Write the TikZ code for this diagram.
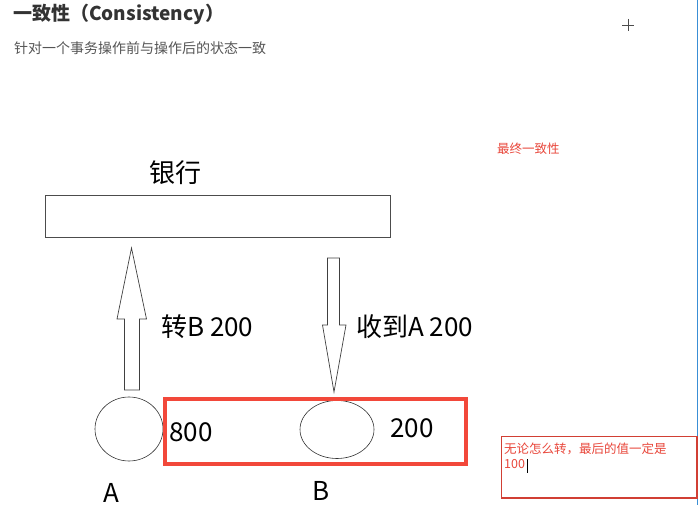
\documentclass[tikz,border=0pt]{standalone}
\usepackage{fontspec}
\setmainfont{Noto Sans CJK SC}
\usetikzlibrary{shapes.geometric,positioning}

\definecolor{titlegray}{HTML}{333333}
\definecolor{subgray}{HTML}{555555}
\definecolor{notered}{HTML}{E8463A}
\definecolor{boxred}{HTML}{F2483A}
\definecolor{edgeblue}{HTML}{3A8FD6}

\begin{document}
\begin{tikzpicture}[
  x=1pt, y=-1pt,
  every node/.style={inner sep=0pt, anchor=west},
  bigtext/.style={font=\fontsize{26}{29}\selectfont, text=black},
  namelab/.style={bigtext, anchor=base, text height=19pt, text depth=0pt},
  note/.style={font=\fontsize{12.5}{15}\selectfont, text=notered},
  account/.style={ellipse, draw=black!80, line width=0.6pt, inner sep=0pt, anchor=center},
  blockarrow/.style={draw=black!75, line width=0.7pt, fill=white, line join=miter}
]
\useasboundingbox (0,0) rectangle (699,505);

% --- heading ---
\node[font=\fontsize{19}{22}\bfseries\selectfont, text=titlegray] (title) at (13,14) {一致性（Consistency）};
\node[font=\fontsize{14}{16}\selectfont, text=subgray] (sub) at (14,48) {针对一个事务操作前与操作后的状态一致};

% cursor cross and window edge
\draw[black!70, line width=0.5pt] (622,25) -- (634,25) (628,19) -- (628,31);
\draw[edgeblue, line width=1pt] (697.5,0) -- (697.5,505);

% --- bank ---
\node[bigtext] (banklab) at (149,173) {银行};
\node[draw=black!70, line width=0.8pt, minimum width=345pt, minimum height=42pt, anchor=north west] (bank) at (45,195) {};

% --- transfer arrows (block shapes) ---
\draw[blockarrow] (124.5,390) -- (124.5,319) -- (117,319) -- (131.5,248) -- (146.5,319)
  -- (139.5,319) -- (139.5,390) -- cycle;
\draw[blockarrow] (327.5,258) -- (339.5,258) -- (339.5,325) -- (346,325) -- (334,392)
  -- (322.5,325) -- (327.5,325) -- cycle;
\node[bigtext] (tolab) at (161,327) {转B 200};
\node[bigtext] (fromlab) at (356,327) {收到A 200};

% --- accounts ---
\node[account, minimum width=68pt, minimum height=64pt] (A) at (129,429) {};
\node[account, minimum width=74pt, minimum height=58pt] (B) at (337,429.5) {};
\node[namelab] (Alab) at (111,502) {A};
\node[namelab] (Blab) at (321,500) {B};

\draw[boxred, line width=4pt] (165,399) rectangle (466,464);
\node[bigtext] (balA) at (169,432) {800};
\node[bigtext] (balB) at (390,428) {200};

% --- notes ---
\node[note] (eventual) at (497,149) {最终一致性};
\draw[notered!90!black, line width=1.8pt] (501.5,436.5) rectangle (697,498);
\node[note, anchor=north west, align=left] (rule) at (504,443)
  {无论怎么转，最后的值一定是\\100};
\draw[black, line width=0.8pt] (527,459) -- (527,473);

\end{tikzpicture}
\end{document}
